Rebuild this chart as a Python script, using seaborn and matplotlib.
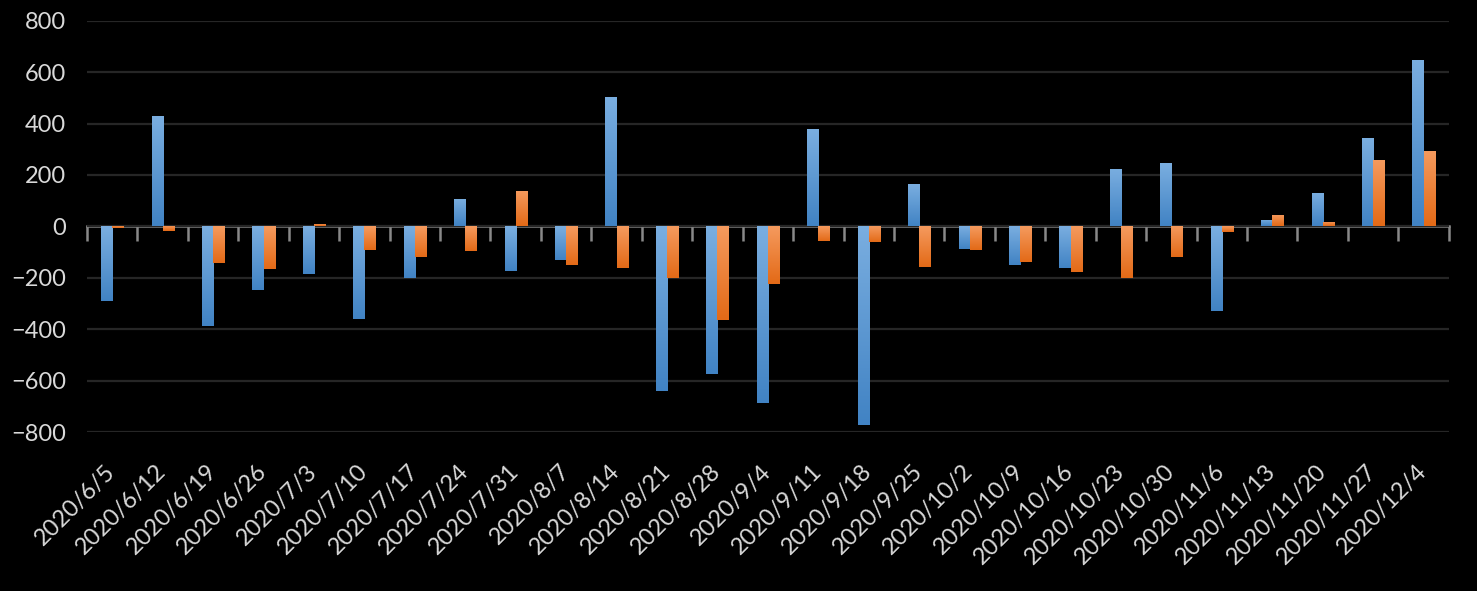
import matplotlib
matplotlib.use("Agg")
import matplotlib.pyplot as plt
from matplotlib.colors import LinearSegmentedColormap
import seaborn as sns
import pandas as pd
import numpy as np

sns.set_style("dark")
plt.rcParams['font.family'] = ['Lato', 'DejaVu Sans']

dates = ['2020/6/5', '2020/6/12', '2020/6/19', '2020/6/26', '2020/7/3', '2020/7/10',
         '2020/7/17', '2020/7/24', '2020/7/31', '2020/8/7', '2020/8/14', '2020/8/21',
         '2020/8/28', '2020/9/4', '2020/9/11', '2020/9/18', '2020/9/25', '2020/10/2',
         '2020/10/9', '2020/10/16', '2020/10/23', '2020/10/30', '2020/11/6', '2020/11/13',
         '2020/11/20', '2020/11/27', '2020/12/4']
blue_vals = [-290, 428, -387, -247, -184, -360, -200, 108, -173, -130, 502, -641, -575,
             -688, 377, -774, 163, -87, -149, -161, 225, 245, -329, 26, 131, 342, 646]
orange_vals = [-8, -20, -142, -165, 10, -91, -118, -95, 139, -149, -161, -200, -364,
               -224, -56, -60, -157, -91, -138, -177, -200, -121, -23, 46, 18, 260, 295]

df = pd.DataFrame({'date': dates * 2,
                   'value': blue_vals + orange_vals,
                   'series': ['s1'] * len(dates) + ['s2'] * len(dates)})

txt = '#D9D9D9'
grid_c = '#262626'
axis_c = '#898989'
pal = ['#5B9BD5', '#ED7D31']
grads = [('#7AAEE0', '#4183C4'), ('#F59A5E', '#E36A17')]

fig = plt.figure(figsize=(14.77, 5.91), dpi=100, facecolor='black')
ax = fig.add_axes([0.0589, 0.269, 0.922, 0.696], facecolor='black')

sns.barplot(data=df, x='date', y='value', hue='series', palette=pal, width=0.44,
            saturation=1, legend=False, ax=ax, zorder=2, linewidth=0, edgecolor='none')

n = len(dates)
ax.set_xlim(-0.5, n - 0.5)
ax.set_ylim(-800, 800)
ax.set_yticks(np.arange(-800, 801, 200))
ax.grid(axis='y', color=grid_c, lw=1.6, zorder=0)
ax.grid(axis='x', visible=False)
ax.set_axisbelow(True)
for s in ax.spines.values():
    s.set_visible(False)
ax.set_xlabel('')
ax.set_ylabel('')
ax.tick_params(axis='y', length=0, pad=15, labelcolor=txt, labelsize=17)
ax.tick_params(axis='x', length=0, pad=26, labelcolor=txt, labelsize=17)
plt.setp(ax.get_xticklabels(), rotation=45, ha='right', va='center', rotation_mode='anchor')

# vertical gradient fill like the excel bars
for i, p in enumerate(ax.patches[:2 * n]):
    lo, hi = grads[0] if i < n else grads[1]
    cmap = LinearSegmentedColormap.from_list('g', [lo, hi])
    x0, y0 = p.get_x(), p.get_y()
    w, h = p.get_width(), p.get_height()
    im = ax.imshow(np.linspace(0, 1, 64).reshape(-1, 1), cmap=cmap, aspect='auto',
                   extent=[x0, x0 + w, min(y0, y0 + h), max(y0, y0 + h)],
                   zorder=2.5, interpolation='bilinear')
    im.set_clip_path(p)
ax.set_xlim(-0.5, n - 0.5)
ax.set_ylim(-800, 800)

# zero axis with tick marks between categories
sec = ax.secondary_xaxis(0.5)
sec.set_xticks(np.arange(-0.5, n, 1))
sec.tick_params(direction='in', length=11, width=1.8, color=axis_c, labeltop=False, labelbottom=False)
for s in sec.spines.values():
    s.set_color(axis_c)
    s.set_linewidth(1.8)

fig.savefig('out.png', dpi=100, facecolor='black')
